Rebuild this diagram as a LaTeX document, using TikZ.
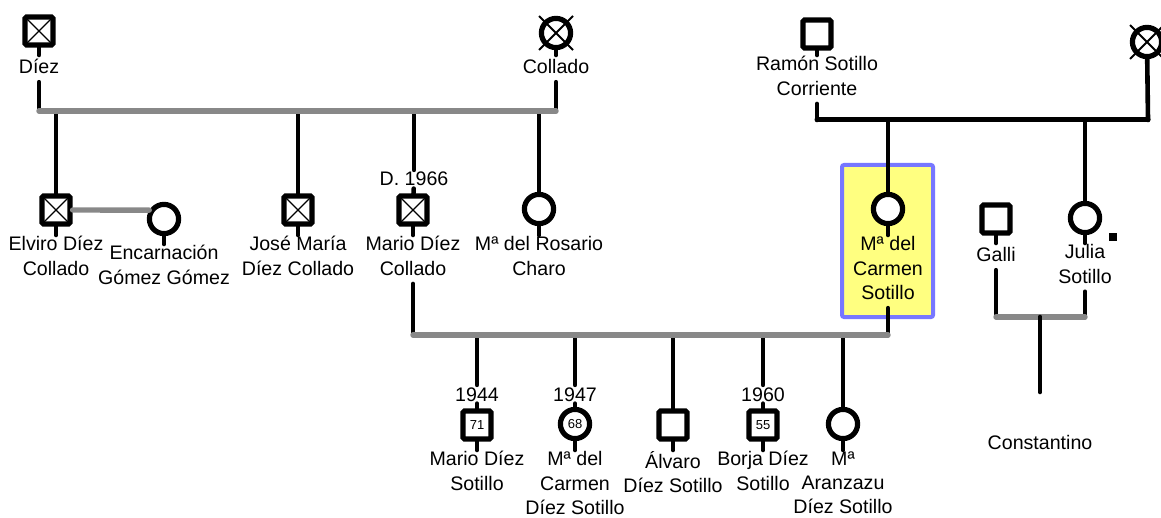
\documentclass[tikz,border=0pt]{standalone}
\usepackage{fontspec}
\setmainfont{Liberation Sans}
\usepackage{tikz}
\definecolor{bargrey}{RGB}{136,136,136}
\definecolor{hlyellow}{RGB}{255,255,128}
\definecolor{hlblue}{RGB}{119,119,255}
\newcommand\lblfont{\fontsize{9.8}{12.2}\selectfont}
\newcommand\agefont{\fontsize{6.5}{7}\selectfont}
\tikzset{
	male/.style={draw,line width=2.6pt,rounded corners=0.8pt,minimum size=14pt,inner sep=0pt,fill=white,font=\agefont},
	female/.style={circle,draw,line width=2.6pt,minimum size=14.6pt,inner sep=0pt,fill=white,font=\agefont},
	dead/.style={path picture={\draw[line width=0.6pt] (path picture bounding box.south west) -- (path picture bounding box.north east) (path picture bounding box.north west) -- (path picture bounding box.south east);}},
	lbl/.style={anchor=north,align=center,inner sep=0.5pt,font=\lblfont,execute at begin node=\strut,execute at end node=\strut},
	yr/.style={anchor=base,inner sep=1pt,font=\lblfont},
	kin/.style={line width=2.3pt,line cap=round},
	tie/.style={line width=2.7pt,draw=bargrey,line cap=round},
	xmark/.style={line width=1pt},
	hilite/.style={draw=hlblue,fill=hlyellow,line width=2pt,rounded corners=1pt}
}
\begin{document}
\begin{tikzpicture}[x=0.5pt,y=-0.5pt]
		\useasboundingbox (0,0) rectangle (1161,518);
		\draw[hilite] (842,165) rectangle (933,317);
		\path (39,31) node(diez)[male,dead]{}
		(39,55) node(diezl)[lbl]{Díez}
		(556,33) node(coll)[female]{}
		(556,55) node(colll)[lbl]{Collado}
		(56,210) node(elviro)[male,dead]{}
		(56,235) node(elvirol)[lbl]{Elviro Díez\\Collado}
		(164,219) node(encarn)[female]{}
		(164,244) node(encarnl)[lbl]{Encarnación\\Gómez Gómez}
		(298,210) node(josem)[male,dead]{}
		(298,235) node(joseml)[lbl]{José María\\Díez Collado}
		(414,186) node(dmario)[yr]{D. 1966}
		(413,210) node(mario)[male,dead]{}
		(413,235) node(mariol)[lbl]{Mario Díez\\Collado}
		(539,209) node(rosario)[female]{}
		(539,235) node(rosariol)[lbl]{Mª del Rosario\\Charo};
		\path (817,34) node(ramon)[male]{}
		(817,55) node(ramonl)[lbl]{Ramón Sotillo\\Corriente}
		(1147,42) node(abuela)[female]{}
		(888,209) node(carmen)[female]{}
		(888,235) node(carmenl)[lbl]{Mª del\\Carmen\\Sotillo}
		(996,219) node(galli)[male]{}
		(996,243) node(gallil)[lbl]{Galli}
		(1085,218) node(julia)[female]{}
		(1085,243) node(julial)[lbl]{Julia\\Sotillo}
		(1040,449) node(const)[yr]{Constantino};
		\path (477,401) node(ymariod)[yr]{1944}
		(477,425) node(mariod)[male]{71}
		(477,450) node(mariodl)[lbl]{Mario Díez\\Sotillo}
		(575,401) node(ycarmend)[yr]{1947}
		(575,424) node(carmend)[female]{68}
		(575,450) node(carmendl)[lbl]{Mª del\\Carmen\\Díez Sotillo}
		(673,425) node(alvaro)[male]{}
		(673,450) node(alvarol)[lbl]{Álvaro\\Díez Sotillo}
		(763,401) node(yborja)[yr]{1960}
		(763,425) node(borja)[male]{55}
		(763,450) node(borjal)[lbl]{Borja Díez\\Sotillo}
		(843,424) node(aranz)[female]{}
		(843,450) node(aranzl)[lbl]{Mª\\Aranzazu\\Díez Sotillo};
		\path (39,111) coordinate(ma) (556,111) coordinate(mb)
		(817,120) coordinate(ra) (1148,120) coordinate(rb)
		(413,335) coordinate(ca) (888,335) coordinate(cb)
		(996,317) coordinate(ga) (1085,317) coordinate(gb)
		(1040,317) coordinate(gc) (1040,392) coordinate(constc);
		\draw[xmark] (coll.center) ++(-8.5pt,-8.5pt) -- ++(17pt,17pt) (coll.center) ++(-8.5pt,8.5pt) -- ++(17pt,-17pt);
		\draw[xmark] (abuela.center) ++(-8.5pt,-8.5pt) -- ++(17pt,17pt) (abuela.center) ++(-8.5pt,8.5pt) -- ++(17pt,-17pt);
		\fill (1109,233) rectangle (1117,241);
		\draw[kin] (diez) to (diezl);
		\draw[kin] (diezl) to (ma);
		\draw[kin] (coll) to (colll);
		\draw[kin] (colll) to (mb);
		\draw[kin] (elviro) to (elviro |- ma);
		\draw[kin] (elviro) to (elvirol);
		\draw[kin] (encarn) to (encarnl);
		\draw[kin] (josem) to (josem |- ma);
		\draw[kin] (josem) to (joseml);
		\draw[kin] (dmario) to (dmario |- ma);
		\draw[kin] (mario) to (dmario);
		\draw[kin] (mario) to (mariol);
		\draw[kin] (rosario) to (rosario |- ma);
		\draw[kin] (rosario) to (rosariol);
		\draw[tie] (ma) to (mb);
		\draw[tie] (elviro.east) to (encarn.149);
		\draw[kin] (ramon) to (ramonl);
		\draw[kin] (ramonl) to (ra);
		\draw[kin] (abuela) to (rb);
		\draw[kin,line width=2.5pt] (ra) to (rb);
		\draw[kin] (carmen) to (carmen |- ra);
		\draw[kin] (carmen) to (carmenl);
		\draw[kin] (julia) to (julia |- ra);
		\draw[kin] (julia) to (julial);
		\draw[kin] (galli) to (gallil);
		\draw[kin] (gallil) to (ga);
		\draw[kin] (julial) to (gb);
		\draw[tie] (ga) to (gb);
		\draw[kin] (gc) to (constc);
		\draw[kin] (mariol) to (ca);
		\draw[kin] (carmenl) to (cb);
		\draw[kin] (ymariod) to (ymariod |- ca);
		\draw[kin] (mariod) to (ymariod);
		\draw[kin] (mariod) to (mariodl);
		\draw[kin] (ycarmend) to (ycarmend |- ca);
		\draw[kin] (carmend) to (ycarmend);
		\draw[kin] (carmend) to (carmendl);
		\draw[kin] (alvaro) to (alvaro |- ca);
		\draw[kin] (alvaro) to (alvarol);
		\draw[kin] (yborja) to (yborja |- ca);
		\draw[kin] (borja) to (yborja);
		\draw[kin] (borja) to (borjal);
		\draw[kin] (aranz) to (aranz |- ca);
		\draw[kin] (aranz) to (aranzl);
		\draw[tie] (ca) to (cb);
	\end{tikzpicture}
\end{document}
